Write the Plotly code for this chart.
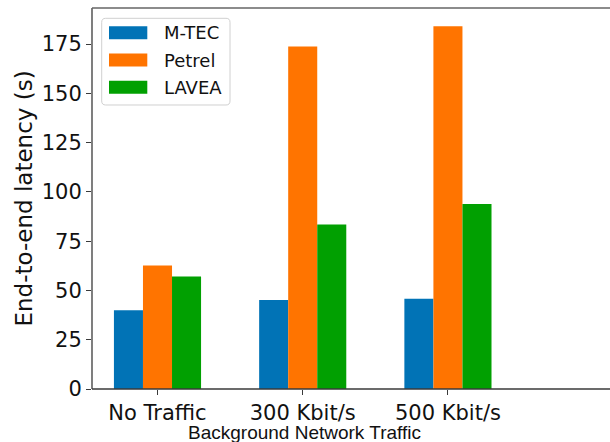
import plotly.graph_objects as go

# Data: end-to-end latency (s) under different background traffic levels
categories = ["No Traffic", "300 Kbit/s", "500 Kbit/s"]
mtec = [40.0, 45.2, 45.8]
petrel = [62.7, 173.8, 184.0]
lavea = [57.1, 83.4, 93.9]

series_names = ["M-TEC", "Petrel", "LAVEA"]
series_values = [mtec, petrel, lavea]
series_colors = ["#0173b6", "#ff7400", "#01a001"]

W, H = 610, 442
ML, MR, MT, MB = 92, 0, 8, 53
PW, PH = W - ML - MR, H - MT - MB


def px_x(x):
    return (x - ML) / PW


def px_y(y):
    return (H - MB - y) / PH


fig = go.Figure()
for name, vals, col in zip(series_names, series_values, series_colors):
    fig.add_trace(go.Bar(
        x=categories, y=vals, name=name,
        marker=dict(color=col, line=dict(width=0)),
        showlegend=False,
    ))

axis_col = "#3a3a3a"
tick_font = dict(family="DejaVu Sans", size=21, color="#111")

fig.update_layout(
    width=W, height=H,
    margin=dict(l=ML, r=MR, t=MT, b=MB, autoexpand=False),
    paper_bgcolor="white", plot_bgcolor="white",
    barmode="group", bargap=0.4, bargroupgap=0,
    xaxis=dict(
        range=[-0.451, 3.116], showline=False,
        ticks="outside", ticklen=5, tickcolor=axis_col, tickwidth=1.2,
        tickfont=tick_font, showgrid=False, zeroline=False,
    ),
    yaxis=dict(
        range=[0, 193.3], tickvals=[0, 25, 50, 75, 100, 125, 150, 175],
        showline=False, ticks="outside", ticklen=5, tickcolor=axis_col, tickwidth=1.2,
        tickfont=tick_font, showgrid=False, zeroline=False,
    ),
)

# Spines: left, bottom and top; the frame runs past the right edge of the page
spine = dict(color=axis_col, width=1.3)
fig.add_shape(type="line", xref="paper", yref="paper", x0=0, x1=0, y0=0, y1=1, line=spine)
fig.add_shape(type="line", xref="paper", yref="paper", x0=0, x1=1.03, y0=0, y1=0, line=spine)
fig.add_shape(type="line", xref="paper", yref="paper", x0=0, x1=1.03, y0=1, y1=1,
              line=dict(color="#666666", width=1.3))

# Axis titles
fig.add_annotation(
    text="Background Network Traffic", xref="paper", yref="paper",
    x=px_x(304.5), y=px_y(432), xanchor="center", yanchor="middle",
    showarrow=False, font=dict(family="Liberation Sans", size=19, color="#111"),
)
fig.add_annotation(
    text="End-to-end latency (s)", xref="paper", yref="paper",
    x=px_x(23), y=px_y(198.5), xanchor="center", yanchor="middle",
    textangle=-90, showarrow=False,
    font=dict(family="DejaVu Sans", size=23, color="#111"),
)

# Legend box with rounded corners
x0, x1, y0, y1, r = 101.7, 230.0, 18.3, 105.0, 4.0


def P(x, y):
    return f"{px_x(x):.5f},{px_y(y):.5f}"


path = (
    f"M {P(x0 + r, y0)} L {P(x1 - r, y0)} Q {P(x1, y0)} {P(x1, y0 + r)} "
    f"L {P(x1, y1 - r)} Q {P(x1, y1)} {P(x1 - r, y1)} "
    f"L {P(x0 + r, y1)} Q {P(x0, y1)} {P(x0, y1 - r)} "
    f"L {P(x0, y0 + r)} Q {P(x0, y0)} {P(x0 + r, y0)} Z"
)
fig.add_shape(type="path", path=path, xref="paper", yref="paper",
              line=dict(color="#d0d0d0", width=1), fillcolor="rgba(255,255,255,0.8)")

row_centers = [32.7, 60.0, 87.3]
for name, col, cy in zip(series_names, series_colors, row_centers):
    fig.add_shape(type="rect", xref="paper", yref="paper",
                  x0=px_x(109), x1=px_x(147.3), y0=px_y(cy + 6.5), y1=px_y(cy - 6.5),
                  line=dict(width=0), fillcolor=col)
    fig.add_annotation(
        text=name, xref="paper", yref="paper", x=px_x(162), y=px_y(cy),
        xanchor="left", yanchor="middle", showarrow=False,
        font=dict(family="DejaVu Sans", size=18, color="#111"),
    )

fig.write_html("out.html")
